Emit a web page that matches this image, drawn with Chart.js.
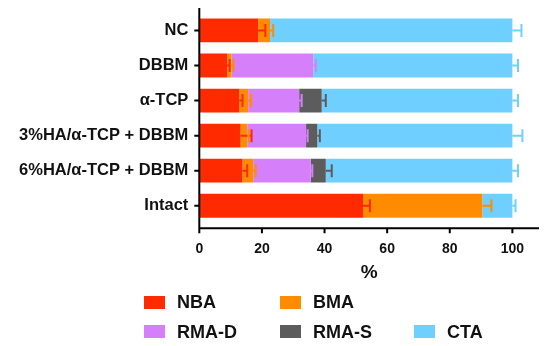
<!DOCTYPE html>
<html>
<head>
<meta charset="utf-8">
<script src="https://cdn.jsdelivr.net/npm/chart.js@4"></script>
<style>
html,body{margin:0;padding:0;background:#fff;}
#wrap{position:relative;width:550px;height:346px;}
canvas{position:absolute;left:0;top:0;}
.lg{position:absolute;font:bold 18px "Liberation Sans",Arial,sans-serif;color:#111;white-space:nowrap;line-height:20px;}
.lg span.box{position:absolute;width:21px;height:13px;}
</style>
</head>
<body>
<div id="wrap"><canvas id="c" width="550" height="346"></canvas><div id="legend"></div></div>
<script>
const categories = ["NC", "DBBM", "α-TCP", "3%HA/α-TCP + DBBM", "6%HA/α-TCP + DBBM", "Intact"];
const seriesNames = ["NBA", "BMA", "RMA-D", "RMA-S", "CTA"];
const colors = ["#FF2A00", "#FF8C00", "#D580FA", "#5C5C5C", "#6FD0FF"];
const NBA   = [18.8, 8.9, 12.8, 13.2, 13.8, 52.3];
const BMA   = [3.8, 1.4, 2.8, 2.1, 3.4, 38.1];
const RMA_D = [0, 26.1, 16.3, 18.8, 18.4, 0];
const RMA_S = [0, 0, 7.2, 3.6, 4.8, 0];
const CTA   = [77.4, 63.6, 60.9, 62.3, 59.6, 9.6];
const NBA_err   = [2.3, 0.8, 1.0, 3.5, 1.5, 2.2];
const BMA_err   = [1.0, 0.6, 0.9, 0.5, 0.8, 2.9];
const RMA_D_err = [0, 0.8, 0.8, 0.5, 0.5, 0];
const RMA_S_err = [0, 0, 1.3, 0.8, 1.9, 0];
const CTA_err   = [2.9, 1.8, 1.8, 3.2, 1.8, 1.0];
const xTicks = [0, 20, 40, 60, 80, 100];

const values = [NBA, BMA, RMA_D, RMA_S, CTA];
const errors = [NBA_err, BMA_err, RMA_D_err, RMA_S_err, CTA_err];

const FONT = '"Liberation Sans", Arial, sans-serif';

const axesPlugin = {
  id: 'axesAndErrors',
  afterDatasetsDraw(chart) {
    const ctx = chart.ctx;
    const xs = chart.scales.x, ys = chart.scales.y;
    const ca = chart.chartArea;
    ctx.save();
    ctx.lineWidth = 2;
    for (let i = 0; i < values.length; i++) {
      const meta = chart.getDatasetMeta(i);
      for (let j = 0; j < categories.length; j++) {
        const e = errors[i][j];
        if (!values[i][j] || !e) continue;
        let end = 0;
        for (let k = 0; k <= i; k++) end += values[k][j];
        const y = meta.data[j].y;
        const x0 = xs.getPixelForValue(end);
        const x1 = xs.getPixelForValue(end + e);
        ctx.strokeStyle = colors[i];
        ctx.beginPath();
        ctx.moveTo(x0, y); ctx.lineTo(x1, y);
        ctx.moveTo(x1, y - 6.5); ctx.lineTo(x1, y + 6.5);
        ctx.stroke();
      }
    }
    ctx.restore();
    ctx.save();
    ctx.strokeStyle = '#000';
    ctx.lineWidth = 2;
    const axY = ca.bottom + 5;
    const axX = ca.left;
    ctx.beginPath();
    ctx.moveTo(axX, ca.top - 5); ctx.lineTo(axX, axY + 1);
    ctx.moveTo(axX - 1, axY); ctx.lineTo(ca.right, axY);
    xTicks.forEach(v => {
      const px = xs.getPixelForValue(v);
      ctx.moveTo(px, axY); ctx.lineTo(px, axY + 5);
    });
    categories.forEach((c, j) => {
      const py = ys.getPixelForValue(j);
      ctx.moveTo(axX - 5, py); ctx.lineTo(axX, py);
    });
    ctx.stroke();
    ctx.restore();
  }
};

new Chart(document.getElementById('c'), {
  type: 'bar',
  data: {
    labels: categories,
    datasets: seriesNames.map((n, i) => ({
      label: n,
      data: values[i],
      backgroundColor: colors[i],
      borderWidth: 0,
      barPercentage: 0.68,
      categoryPercentage: 1.0
    }))
  },
  options: {
    indexAxis: 'y',
    responsive: false,
    animation: false,
    devicePixelRatio: 1,
    layout: { padding: { left: 0, right: 11, top: 2, bottom: 0 } },
    plugins: { legend: { display: false }, tooltip: { enabled: false } },
    scales: {
      x: {
        stacked: true,
        min: 0, max: 108.5,
        grid: { display: false },
        border: { display: false },
        afterFit(s) { s.height = 346 - 223.3; },
        afterBuildTicks(s) { s.ticks = xTicks.map(v => ({ value: v })); },
        ticks: { color: '#111', padding: 9, font: { family: FONT, size: 14, weight: 'bold' } },
        title: { display: true, text: '%', color: '#111', padding: { top: 0, bottom: 62 }, font: { family: FONT, size: 19, weight: 'bold' } }
      },
      y: {
        stacked: true,
        grid: { display: false },
        border: { display: false },
        afterFit(s) { s.width = 199.3; },
        ticks: { color: '#111', padding: 3, font: { family: FONT, size: 16.5, weight: 'bold' } }
      }
    }
  },
  plugins: [axesPlugin]
});

const legendPos = [[144, 302.3], [280, 302.3], [144, 331.7], [280, 331.7], [414, 331.7]];
const lg = document.getElementById('legend');
seriesNames.forEach((n, i) => {
  const [bx, cy] = legendPos[i];
  const d = document.createElement('div');
  d.className = 'lg';
  d.style.left = bx + 'px';
  d.style.top = (cy - 10) + 'px';
  d.style.paddingLeft = '33px';
  const b = document.createElement('span');
  b.className = 'box';
  b.style.background = colors[i];
  b.style.left = '0px';
  b.style.top = '3.5px';
  d.appendChild(b);
  d.appendChild(document.createTextNode(n));
  lg.appendChild(d);
});
</script>
</body>
</html>
